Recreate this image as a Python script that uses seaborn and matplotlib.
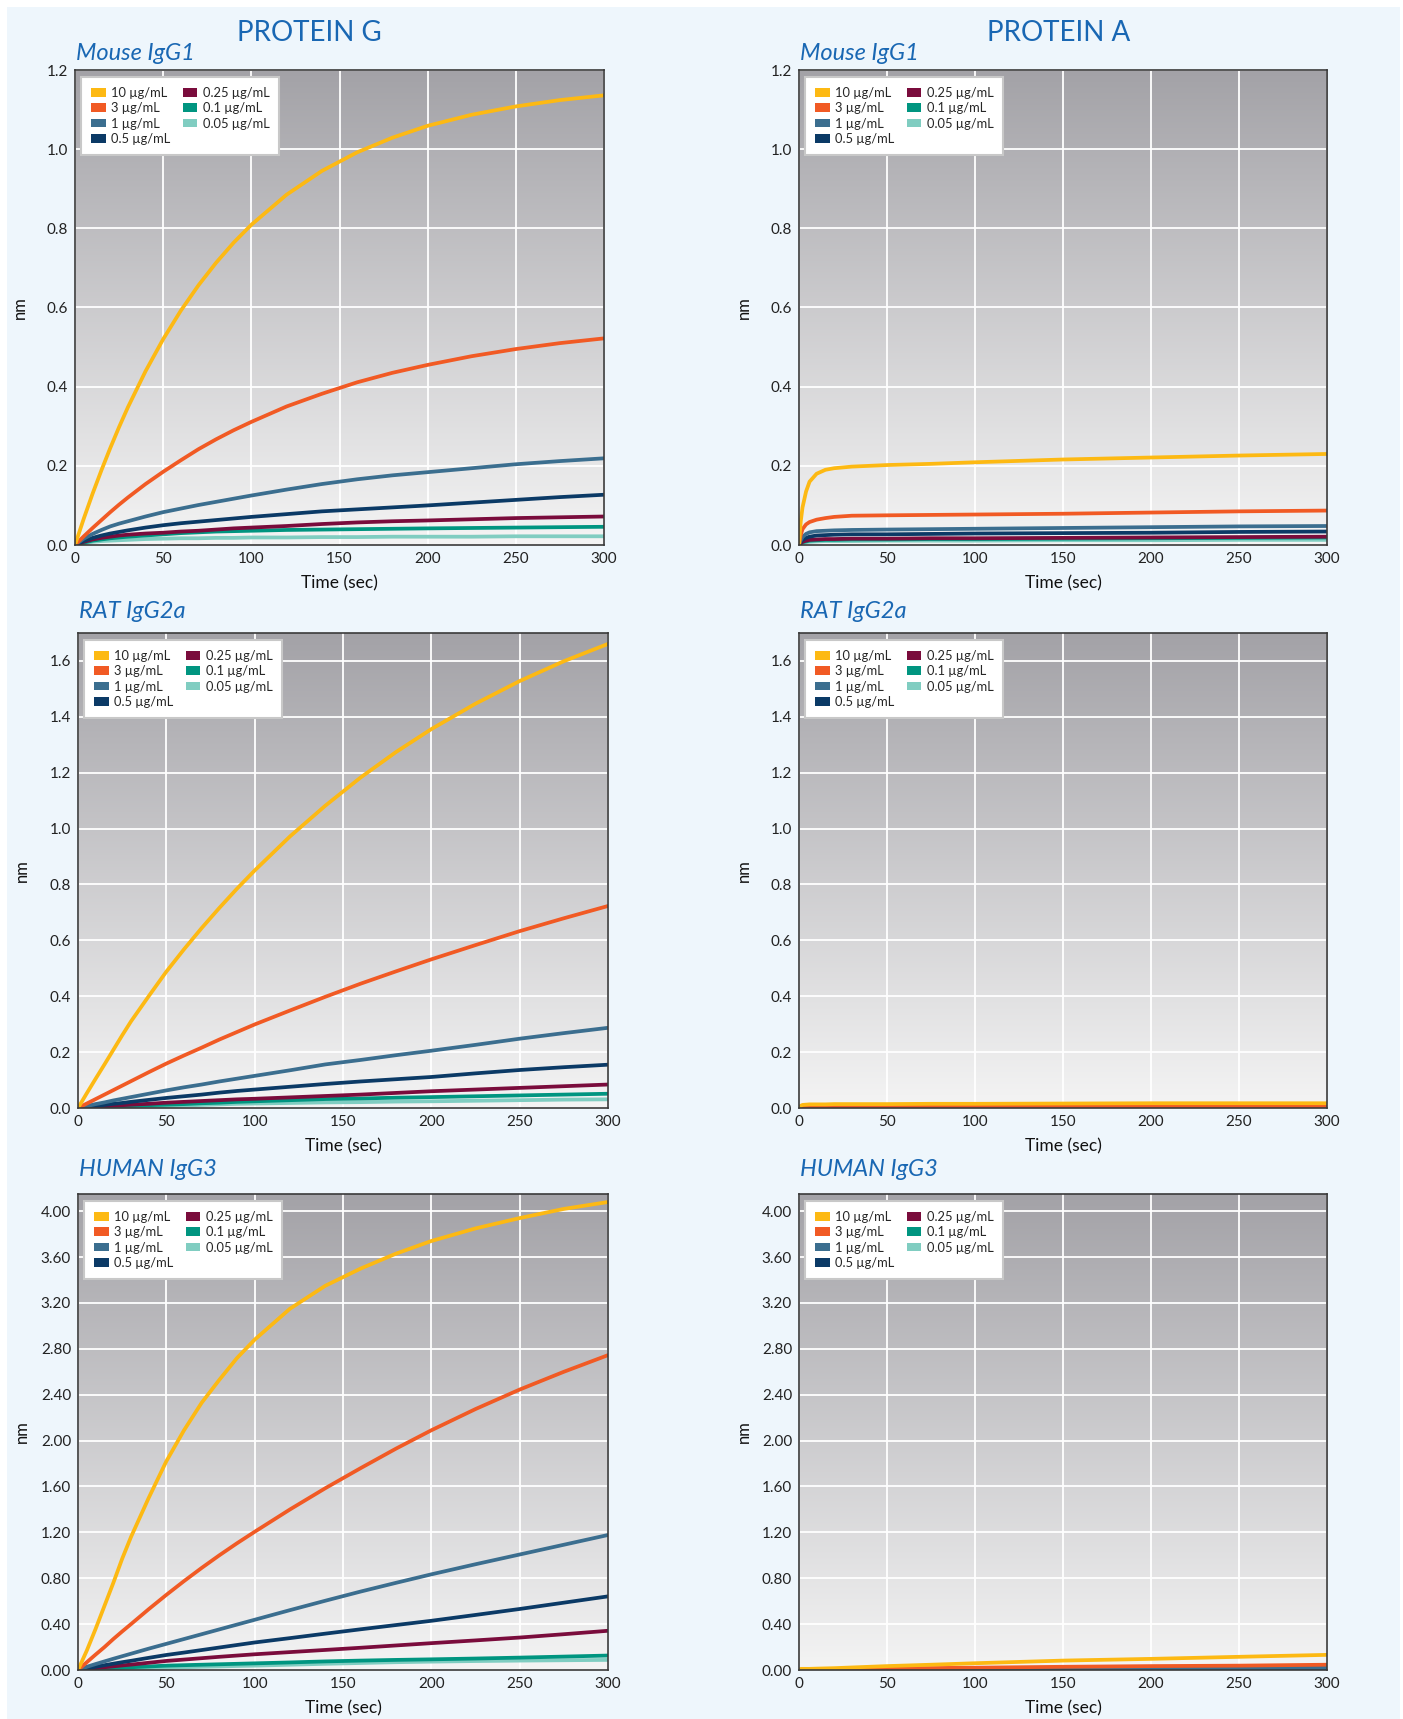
import matplotlib
matplotlib.use("Agg")
import pandas as pd
import matplotlib.pyplot as plt
import seaborn as sns
from matplotlib.patches import Patch, Rectangle
import numpy as np

# sampling times (sec)
TIME_G = [0, 5, 10, 15, 20, 25, 30, 40, 50, 60, 70, 80, 90, 100,
          120, 140, 160, 180, 200, 225, 250, 275, 300]
TIME_A = [0, 1, 2, 4, 6, 10, 15, 20, 30, 50, 75, 100, 150, 200, 250, 300]

CONC_LABELS = ["10 µg/mL", "3 µg/mL", "1 µg/mL", "0.5 µg/mL",
               "0.25 µg/mL", "0.1 µg/mL", "0.05 µg/mL"]
CONC_COLORS = ["#FDB913", "#F15A24", "#3B6E8F", "#0B3A66",
               "#7A0C3C", "#009580", "#80CDC1"]

# Protein G / Mouse IgG1 (nm)
MOUSE_G = [
    [0, 0.067, 0.130, 0.189, 0.245, 0.298, 0.348, 0.439, 0.520, 0.592, 0.656, 0.713, 0.764, 0.809,
     0.885, 0.945, 0.992, 1.029, 1.059, 1.087, 1.108, 1.124, 1.136],
    [0, 0.022, 0.043, 0.063, 0.083, 0.102, 0.120, 0.154, 0.185, 0.214, 0.242, 0.267, 0.290, 0.311,
     0.350, 0.382, 0.411, 0.435, 0.455, 0.477, 0.495, 0.510, 0.522],
    [0, 0.016, 0.028, 0.038, 0.047, 0.054, 0.060, 0.072, 0.083, 0.092, 0.101, 0.109, 0.117, 0.125,
     0.140, 0.154, 0.166, 0.176, 0.184, 0.194, 0.204, 0.212, 0.219],
    [0, 0.010, 0.018, 0.024, 0.029, 0.033, 0.037, 0.044, 0.050, 0.055, 0.059, 0.063, 0.067, 0.071,
     0.078, 0.085, 0.090, 0.095, 0.100, 0.107, 0.114, 0.121, 0.127],
    [0, 0.008, 0.014, 0.018, 0.021, 0.024, 0.026, 0.029, 0.031, 0.034, 0.036, 0.039, 0.042, 0.044,
     0.048, 0.053, 0.057, 0.060, 0.062, 0.065, 0.068, 0.070, 0.072],
    [0, 0.006, 0.011, 0.014, 0.017, 0.019, 0.021, 0.024, 0.027, 0.030, 0.032, 0.034, 0.035, 0.036,
     0.038, 0.039, 0.040, 0.041, 0.042, 0.043, 0.044, 0.045, 0.046],
    [0, 0.004, 0.008, 0.010, 0.011, 0.012, 0.013, 0.015, 0.016, 0.017, 0.017, 0.018, 0.018, 0.019,
     0.019, 0.020, 0.020, 0.021, 0.021, 0.021, 0.022, 0.022, 0.022],
]

# Protein A / Mouse IgG1
MOUSE_A = [
    [0, 0.060, 0.095, 0.135, 0.160, 0.180, 0.190, 0.194, 0.198, 0.202, 0.205, 0.209, 0.216, 0.221, 0.226, 0.230],
    [0, 0.025, 0.040, 0.052, 0.058, 0.064, 0.068, 0.071, 0.074, 0.075, 0.076, 0.077, 0.079, 0.082, 0.085, 0.087],
    [0, 0.012, 0.020, 0.028, 0.032, 0.035, 0.036, 0.037, 0.038, 0.039, 0.040, 0.041, 0.043, 0.045, 0.047, 0.048],
    [0, 0.008, 0.013, 0.018, 0.021, 0.024, 0.025, 0.026, 0.027, 0.027, 0.028, 0.029, 0.030, 0.031, 0.033, 0.034],
    [0, 0.005, 0.008, 0.011, 0.013, 0.014, 0.015, 0.015, 0.016, 0.016, 0.017, 0.017, 0.018, 0.019, 0.020, 0.021],
    [0, 0.004, 0.007, 0.009, 0.011, 0.012, 0.013, 0.013, 0.014, 0.014, 0.015, 0.015, 0.016, 0.017, 0.018, 0.019],
    [0, 0.003, 0.005, 0.007, 0.008, 0.009, 0.010, 0.010, 0.010, 0.011, 0.011, 0.011, 0.012, 0.012, 0.013, 0.013],
]

# Protein G / RAT IgG2a
RAT_G = [
    [0, 0.053, 0.105, 0.156, 0.208, 0.260, 0.310, 0.400, 0.488, 0.568, 0.644, 0.716, 0.785, 0.850,
     0.972, 1.082, 1.183, 1.274, 1.356, 1.447, 1.528, 1.599, 1.661],
    [0, 0.016, 0.032, 0.048, 0.064, 0.080, 0.096, 0.128, 0.159, 0.188, 0.216, 0.245, 0.272, 0.299,
     0.349, 0.398, 0.445, 0.489, 0.532, 0.583, 0.633, 0.679, 0.723],
    [0, 0.007, 0.014, 0.020, 0.027, 0.033, 0.039, 0.051, 0.063, 0.074, 0.084, 0.095, 0.105, 0.115,
     0.135, 0.156, 0.172, 0.189, 0.205, 0.226, 0.248, 0.268, 0.287],
    [0, 0.004, 0.008, 0.011, 0.015, 0.018, 0.022, 0.029, 0.036, 0.042, 0.048, 0.055, 0.061, 0.066,
     0.076, 0.086, 0.095, 0.103, 0.111, 0.124, 0.136, 0.146, 0.155],
    [0, 0.002, 0.004, 0.006, 0.008, 0.010, 0.012, 0.015, 0.019, 0.022, 0.025, 0.028, 0.031, 0.033,
     0.038, 0.043, 0.048, 0.054, 0.060, 0.066, 0.072, 0.078, 0.084],
    [0, 0.001, 0.002, 0.004, 0.005, 0.006, 0.007, 0.010, 0.012, 0.014, 0.017, 0.019, 0.022, 0.024,
     0.028, 0.032, 0.034, 0.037, 0.039, 0.042, 0.045, 0.048, 0.051],
    [0, 0.001, 0.002, 0.002, 0.003, 0.003, 0.004, 0.005, 0.007, 0.009, 0.011, 0.013, 0.015, 0.016,
     0.018, 0.020, 0.021, 0.023, 0.024, 0.026, 0.028, 0.030, 0.031],
]

# Protein A / RAT IgG2a
RAT_A = [
    [0, 0.008, 0.011, 0.012, 0.013, 0.013, 0.013, 0.014, 0.014, 0.014, 0.015, 0.015, 0.016, 0.017, 0.017, 0.017],
    [0, 0.003, 0.004, 0.005, 0.005, 0.005, 0.005, 0.005, 0.005, 0.005, 0.005, 0.005, 0.006, 0.006, 0.006, 0.006],
    [0, 0.002, 0.003, 0.004, 0.004, 0.004, 0.004, 0.004, 0.004, 0.004, 0.004, 0.005, 0.005, 0.005, 0.005, 0.005],
    [0, 0.001, 0.002, 0.003, 0.003, 0.003, 0.003, 0.003, 0.003, 0.003, 0.003, 0.003, 0.004, 0.004, 0.004, 0.004],
    [0, 0.001, 0.002, 0.002, 0.002, 0.002, 0.002, 0.002, 0.002, 0.002, 0.002, 0.002, 0.003, 0.003, 0.003, 0.003],
    [0, 0.002, 0.003, 0.004, 0.005, 0.005, 0.005, 0.006, 0.006, 0.006, 0.006, 0.006, 0.007, 0.007, 0.007, 0.007],
    [0, 0.001, 0.002, 0.002, 0.003, 0.003, 0.003, 0.003, 0.003, 0.003, 0.003, 0.003, 0.003, 0.004, 0.004, 0.004],
]

# Protein G / HUMAN IgG3
HUMAN_G = [
    [0, 0.17, 0.36, 0.56, 0.76, 0.97, 1.16, 1.50, 1.82, 2.09, 2.33, 2.53, 2.72, 2.88,
     3.15, 3.35, 3.50, 3.63, 3.74, 3.85, 3.94, 4.02, 4.08],
    [0, 0.068, 0.135, 0.20, 0.27, 0.336, 0.40, 0.53, 0.655, 0.775, 0.89, 1.00, 1.105, 1.205,
     1.40, 1.585, 1.76, 1.93, 2.09, 2.275, 2.445, 2.60, 2.745],
    [0, 0.028, 0.052, 0.075, 0.098, 0.12, 0.142, 0.186, 0.228, 0.27, 0.312, 0.354, 0.396, 0.438,
     0.522, 0.604, 0.684, 0.76, 0.834, 0.922, 1.007, 1.092, 1.177],
    [0, 0.015, 0.028, 0.042, 0.055, 0.068, 0.08, 0.106, 0.131, 0.152, 0.174, 0.196, 0.218, 0.24,
     0.278, 0.317, 0.355, 0.392, 0.429, 0.48, 0.532, 0.587, 0.642],
    [0, 0.008, 0.016, 0.024, 0.032, 0.04, 0.047, 0.063, 0.079, 0.091, 0.103, 0.115, 0.126, 0.137,
     0.156, 0.175, 0.194, 0.214, 0.234, 0.258, 0.283, 0.312, 0.342],
    [0, 0.005, 0.009, 0.013, 0.016, 0.02, 0.024, 0.031, 0.038, 0.042, 0.046, 0.05, 0.054, 0.058,
     0.066, 0.075, 0.082, 0.088, 0.093, 0.10, 0.108, 0.117, 0.126],
    [0, 0.002, 0.004, 0.006, 0.008, 0.01, 0.012, 0.016, 0.02, 0.024, 0.028, 0.031, 0.035, 0.038,
     0.046, 0.054, 0.061, 0.068, 0.073, 0.078, 0.082, 0.085, 0.088],
]

# Protein A / HUMAN IgG3
HUMAN_A = [
    [0, 0.010, 0.010, 0.010, 0.010, 0.012, 0.014, 0.016, 0.022, 0.034, 0.046, 0.059, 0.082, 0.097, 0.115, 0.132],
    [0, 0.002, 0.003, 0.004, 0.005, 0.006, 0.007, 0.008, 0.009, 0.013, 0.017, 0.020, 0.028, 0.034, 0.038, 0.046],
    [0, 0.000, 0.001, 0.002, 0.002, 0.003, 0.003, 0.004, 0.005, 0.006, 0.007, 0.008, 0.011, 0.016, 0.018, 0.020],
    [0, 0.000, 0.001, 0.001, 0.002, 0.002, 0.003, 0.003, 0.004, 0.005, 0.006, 0.007, 0.009, 0.011, 0.013, 0.016],
    [0, 0.000, 0.001, 0.001, 0.001, 0.002, 0.002, 0.002, 0.003, 0.004, 0.004, 0.005, 0.007, 0.008, 0.009, 0.011],
    [0, 0.000, 0.000, 0.001, 0.001, 0.001, 0.002, 0.002, 0.002, 0.003, 0.004, 0.005, 0.006, 0.008, 0.011, 0.014],
    [0, 0.000, 0.000, 0.000, 0.001, 0.001, 0.001, 0.001, 0.002, 0.002, 0.003, 0.003, 0.004, 0.005, 0.006, 0.008],
]

ROW_TITLES = ["Mouse IgG1", "RAT IgG2a", "HUMAN IgG3"]
COL_TITLES = ["PROTEIN G", "PROTEIN A"]
Y_MAX = [1.2, 1.7, 4.15]
Y_TICKS = [[0.0, 0.2, 0.4, 0.6, 0.8, 1.0, 1.2],
           [0.0, 0.2, 0.4, 0.6, 0.8, 1.0, 1.2, 1.4, 1.6],
           [0.0, 0.4, 0.8, 1.2, 1.6, 2.0, 2.4, 2.8, 3.2, 3.6, 4.0]]
Y_FMT = ["{:.1f}", "{:.1f}", "{:.2f}"]
X_TICKS = [0, 50, 100, 150, 200, 250, 300]

TITLE_BLUE = "#1967B3"
BG_BLUE = "#EEF6FC"


def to_long(time, series):
    rows = []
    for label, values in zip(CONC_LABELS, series):
        for t, v in zip(time, values):
            rows.append({"time": t, "nm": v, "conc": label})
    return pd.DataFrame(rows)


def style_axes(ax, row):
    # vertical grey gradient behind the plot area
    grad = np.linspace(0, 1, 256)[:, None]
    top = np.array([163, 162, 167]) / 255
    bottom = np.array([244, 244, 244]) / 255
    img = top + (bottom - top) * grad[..., None]
    ax.imshow(img, extent=[0, 1, 0, 1], transform=ax.transAxes,
              aspect="auto", origin="upper", zorder=0)
    ax.set_xlim(0, 300)
    ax.set_ylim(0, Y_MAX[row])
    ax.set_xticks(X_TICKS)
    ax.set_yticks(Y_TICKS[row])
    ax.set_yticklabels([Y_FMT[row].format(v) for v in Y_TICKS[row]])
    ax.grid(True, color="white", linewidth=1.3, zorder=1)
    ax.set_axisbelow(False)
    for s in ax.spines.values():
        s.set_color("#3a3a3a")
        s.set_linewidth(1.2)
        s.set_zorder(5)
    ax.tick_params(length=0, labelsize=11, pad=5, colors="#222222")
    ax.set_xlabel("Time (sec)", fontsize=12.5, color="#111111")
    ax.set_ylabel("nm", fontsize=12, color="#111111")
    ax.xaxis.set_label_coords(0.5, -0.08)
    ax.xaxis.label.set_va("center")
    ax.yaxis.set_label_coords(-0.105, 0.5)
    ax.yaxis.label.set_va("center")


sns.set_style("white")
plt.rcParams['font.family'] = ['Lato', 'DejaVu Sans']

fig = plt.figure(figsize=(14.03, 17.19), dpi=100)
fig.patch.set_facecolor("white")
fig.patches.append(Rectangle((0.005, 0), 0.993, 0.996, transform=fig.transFigure,
                             facecolor=BG_BLUE, edgecolor="none", zorder=-10))

W, H = 1403, 1719
# axes boxes in pixels: (left, top, right, bottom)
boxes = [
    [(75, 70, 604, 545), (799, 70, 1327, 545)],
    [(78, 633, 608, 1108), (799, 633, 1327, 1108)],
    [(78, 1194, 608, 1670), (799, 1194, 1327, 1670)],
]
subtitle_y = [53, 612, 1169]
panels = [[(TIME_G, MOUSE_G), (TIME_A, MOUSE_A)],
          [(TIME_G, RAT_G), (TIME_A, RAT_A)],
          [(TIME_G, HUMAN_G), (TIME_A, HUMAN_A)]]

palette = dict(zip(CONC_LABELS, CONC_COLORS))
handles = [Patch(facecolor=c, edgecolor="none", label=l)
           for l, c in zip(CONC_LABELS, CONC_COLORS)]

for r in range(3):
    for c in range(2):
        l, t, rgt, b = boxes[r][c]
        ax = fig.add_axes([l / W, 1 - b / H, (rgt - l) / W, (b - t) / H])
        time, series = panels[r][c]
        df = to_long(time, series)
        sns.lineplot(data=df, x="time", y="nm", hue="conc",
                     hue_order=CONC_LABELS[::-1], palette=palette,
                     linewidth=2.7, legend=False, ax=ax, zorder=3)
        style_axes(ax, r)
        leg = ax.legend(handles=handles, ncol=2, loc="upper left",
                        bbox_to_anchor=(0.012, 0.985), borderaxespad=0,
                        fontsize=9.3, frameon=True, fancybox=False,
                        handlelength=1.15, handleheight=0.65,
                        handletextpad=0.4, labelspacing=0.26,
                        columnspacing=0.95, borderpad=0.75)
        leg.get_frame().set_facecolor("white")
        leg.get_frame().set_edgecolor("#c8c8c8")
        leg.get_frame().set_linewidth(1.5)
        leg.get_frame().set_alpha(1)
        leg.set_zorder(6)
        # panel sub-title
        fig.text((l + 1) / W, 1 - subtitle_y[r] / H, ROW_TITLES[r], fontsize=17,
                 style="italic", color=TITLE_BLUE, va="center", ha="left")

fig.text(309 / W, 1 - 33 / H, COL_TITLES[0], fontsize=20, color=TITLE_BLUE,
         ha="center", va="center")
fig.text(1059 / W, 1 - 33 / H, COL_TITLES[1], fontsize=20, color=TITLE_BLUE,
         ha="center", va="center")

fig.savefig("out.png", dpi=100, facecolor=fig.get_facecolor())
